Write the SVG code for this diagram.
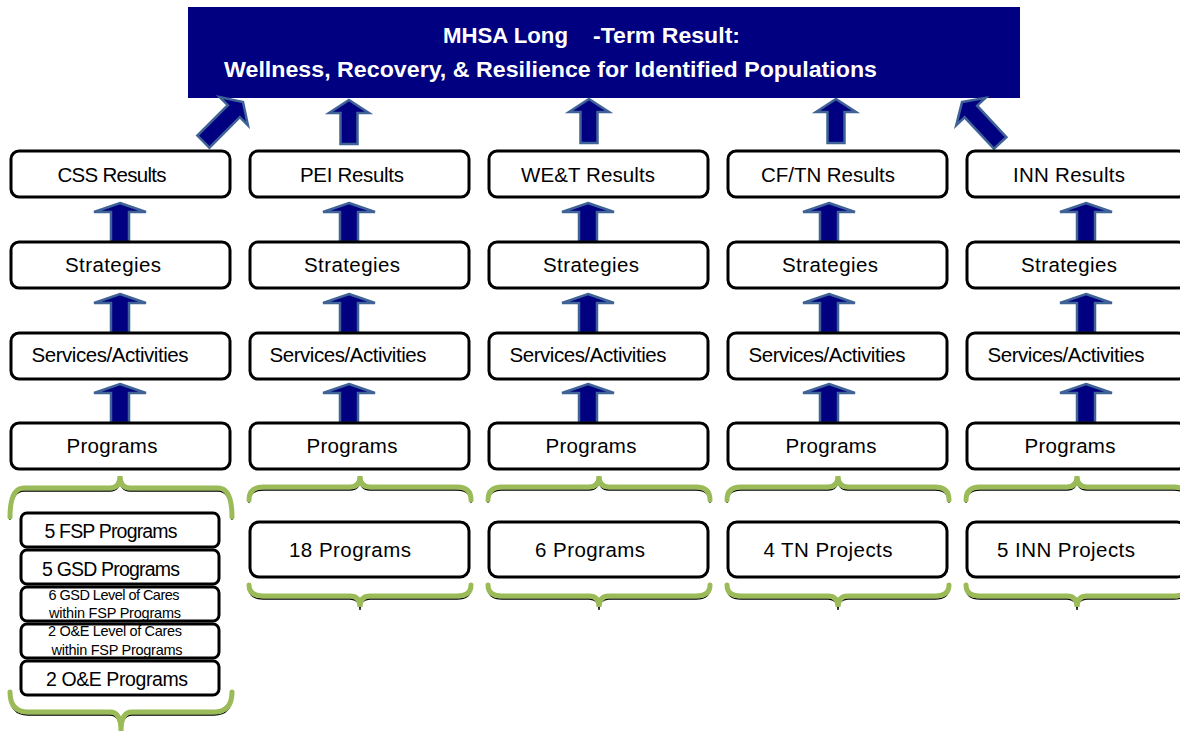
<svg xmlns="http://www.w3.org/2000/svg" width="1180" height="731" viewBox="0 0 1180 731">
<style>
.box{fill:#fff;stroke:#000;stroke-width:3}
.t{font-family:"Liberation Sans",Arial,sans-serif;font-size:20.5px;fill:#000;text-anchor:middle}
.s{font-family:"Liberation Sans",Arial,sans-serif;font-size:14.5px;fill:#000;text-anchor:middle}
.m{font-family:"Liberation Sans",Arial,sans-serif;font-size:19.5px;fill:#000;text-anchor:middle}
.b{font-family:"Liberation Sans",Arial,sans-serif;font-size:22px;font-weight:bold;fill:#fff}
.arr{fill:#000080;stroke:#3F6396;stroke-width:2.5;stroke-linejoin:miter}
.br{fill:none;stroke:#9BBB59;stroke-width:5;stroke-linecap:round}
.bs{fill:none;stroke:#000;stroke-width:1.3}
</style>
<defs>
<polygon id="ra" points="0,0 26,9 9,9 9,39 -9,39 -9,9 -26,9"/>
<polygon id="ta" points="0,0 20,13 8.5,13 8.5,44 -8.5,44 -8.5,13 -20,13"/>
<polygon id="da" points="0,0 20,13 8.5,13 8.5,56 -8.5,56 -8.5,13 -20,13"/>
<path id="tb" d="M0,24 Q0,11 14,11 L101,11 Q111,11 111,0 Q111,11 121,11 L208,11 Q222,11 222,24"/>
<path id="bb" d="M0,0 Q0,11 14,11 L101,11 Q111,11 111,22 Q111,11 121,11 L208,11 Q222,11 222,0"/>
</defs>

<g id="banner">
<rect x="188" y="7" width="832" height="91" fill="#000080"/>
<text class="b" x="443" y="43" textLength="125" lengthAdjust="spacingAndGlyphs">MHSA Long</text>
<text class="b" x="593" y="43" textLength="147" lengthAdjust="spacingAndGlyphs">-Term Result:</text>
<text class="b" x="224" y="77" textLength="653" lengthAdjust="spacingAndGlyphs">Wellness, Recovery, &amp; Resilience for Identified Populations</text>
</g>

<g id="connectors">
<use href="#da" class="arr" transform="translate(243,102) rotate(45)"/>
<use href="#ta" class="arr" x="349" y="100"/>
<use href="#ta" class="arr" x="589" y="99"/>
<use href="#ta" class="arr" x="836" y="99"/>
<use href="#da" class="arr" transform="translate(962,102) rotate(-43)"/>

<use href="#ra" class="arr" x="120" y="203"/>
<use href="#ra" class="arr" x="120" y="294"/>
<use href="#ra" class="arr" x="120" y="384"/>
<use href="#ra" class="arr" x="349" y="203"/>
<use href="#ra" class="arr" x="349" y="294"/>
<use href="#ra" class="arr" x="349" y="384"/>
<use href="#ra" class="arr" x="588" y="203"/>
<use href="#ra" class="arr" x="588" y="294"/>
<use href="#ra" class="arr" x="588" y="384"/>
<use href="#ra" class="arr" x="829" y="203"/>
<use href="#ra" class="arr" x="829" y="294"/>
<use href="#ra" class="arr" x="829" y="384"/>
<use href="#ra" class="arr" x="1086" y="203"/>
<use href="#ra" class="arr" x="1086" y="294"/>
<use href="#ra" class="arr" x="1086" y="384"/>
</g>

<g id="braces">
<path class="bs" d="M10,520 Q10,491 24,491 L110,491 Q120,491 120,479 Q120,491 130,491 L218,491 Q232,491 232,520"/>
<path class="br" d="M10,517 Q10,488 24,488 L110,488 Q120,488 120,476 Q120,488 130,488 L218,488 Q232,488 232,517"/>
<path class="bs" d="M10,695 Q10,715 28,715 L110,715 Q121,715 121,734 Q121,715 132,715 L214,715 Q232,715 232,695"/>
<path class="br" d="M10,692 Q10,712 28,712 L110,712 Q121,712 121,731 Q121,712 132,712 L214,712 Q232,712 232,692"/>

<use href="#tb" class="bs" x="249" y="479"/><use href="#tb" class="br" x="249" y="476"/>
<use href="#bb" class="bs" x="249" y="588"/><use href="#bb" class="br" x="249" y="585"/>
<use href="#tb" class="bs" x="488" y="479"/><use href="#tb" class="br" x="488" y="476"/>
<use href="#bb" class="bs" x="488" y="588"/><use href="#bb" class="br" x="488" y="585"/>
<use href="#tb" class="bs" x="727" y="479"/><use href="#tb" class="br" x="727" y="476"/>
<use href="#bb" class="bs" x="727" y="588"/><use href="#bb" class="br" x="727" y="585"/>
<use href="#tb" class="bs" x="966" y="479"/><use href="#tb" class="br" x="966" y="476"/>
<use href="#bb" class="bs" x="966" y="588"/><use href="#bb" class="br" x="966" y="585"/>
</g>

<g id="css-results"><rect class="box" x="11" y="151" width="219" height="46" rx="8"/><text class="t" x="112" y="182" textLength="109">CSS Results</text></g>
<g id="css-strategies"><rect class="box" x="11" y="242" width="219" height="46" rx="8"/><text class="t" x="113" y="272" textLength="96">Strategies</text></g>
<g id="css-services"><rect class="box" x="11" y="333" width="219" height="46" rx="8"/><text class="t" x="110" y="362" textLength="157">Services/Activities</text></g>
<g id="css-programs"><rect class="box" x="11" y="423" width="219" height="46" rx="8"/><text class="t" x="112" y="453" textLength="91">Programs</text></g>
<g id="css-fsp"><rect class="box" x="21" y="513" width="198" height="34" rx="6"/><text class="m" x="111" y="538" textLength="133">5 FSP Programs</text></g>
<g id="css-gsd"><rect class="box" x="21" y="550" width="198" height="34" rx="6"/><text class="m" x="111" y="576" textLength="138">5 GSD Programs</text></g>
<g id="css-gsd-loc"><rect class="box" x="21" y="587" width="198" height="34" rx="6"/><text class="s" x="114" y="600" textLength="131">6 GSD Level of Cares</text><text class="s" x="115" y="618" textLength="132">within FSP Programs</text></g>
<g id="css-oe-loc"><rect class="box" x="21" y="624" width="198" height="34" rx="6"/><text class="s" x="115" y="636" textLength="134">2 O&amp;E Level of Cares</text><text class="s" x="117" y="655" textLength="131">within FSP Programs</text></g>
<g id="css-oe"><rect class="box" x="21" y="661" width="198" height="34" rx="6"/><text class="m" x="117" y="686" textLength="142">2 O&amp;E Programs</text></g>

<g id="pei-results"><rect class="box" x="250" y="151" width="219" height="46" rx="8"/><text class="t" x="352" y="182" textLength="104">PEI Results</text></g>
<g id="pei-strategies"><rect class="box" x="250" y="242" width="219" height="46" rx="8"/><text class="t" x="352" y="272" textLength="96">Strategies</text></g>
<g id="pei-services"><rect class="box" x="250" y="333" width="219" height="46" rx="8"/><text class="t" x="348" y="362" textLength="157">Services/Activities</text></g>
<g id="pei-programs"><rect class="box" x="250" y="423" width="219" height="46" rx="8"/><text class="t" x="352" y="453" textLength="91">Programs</text></g>
<g id="pei-count"><rect class="box" x="250" y="522" width="219" height="55" rx="9"/><text class="t" x="350" y="557" textLength="122">18 Programs</text></g>

<g id="wet-results"><rect class="box" x="489" y="151" width="219" height="46" rx="8"/><text class="t" x="588" y="182" textLength="134">WE&amp;T Results</text></g>
<g id="wet-strategies"><rect class="box" x="489" y="242" width="219" height="46" rx="8"/><text class="t" x="591" y="272" textLength="96">Strategies</text></g>
<g id="wet-services"><rect class="box" x="489" y="333" width="219" height="46" rx="8"/><text class="t" x="588" y="362" textLength="157">Services/Activities</text></g>
<g id="wet-programs"><rect class="box" x="489" y="423" width="219" height="46" rx="8"/><text class="t" x="591" y="453" textLength="91">Programs</text></g>
<g id="wet-count"><rect class="box" x="489" y="522" width="219" height="55" rx="9"/><text class="t" x="590" y="557" textLength="110">6 Programs</text></g>

<g id="cftn-results"><rect class="box" x="728" y="151" width="219" height="46" rx="8"/><text class="t" x="828" y="182" textLength="134">CF/TN Results</text></g>
<g id="cftn-strategies"><rect class="box" x="728" y="242" width="219" height="46" rx="8"/><text class="t" x="830" y="272" textLength="96">Strategies</text></g>
<g id="cftn-services"><rect class="box" x="728" y="333" width="219" height="46" rx="8"/><text class="t" x="827" y="362" textLength="157">Services/Activities</text></g>
<g id="cftn-programs"><rect class="box" x="728" y="423" width="219" height="46" rx="8"/><text class="t" x="831" y="453" textLength="91">Programs</text></g>
<g id="cftn-count"><rect class="box" x="728" y="522" width="219" height="55" rx="9"/><text class="t" x="828" y="557" textLength="129">4 TN Projects</text></g>

<g id="inn-results"><rect class="box" x="967" y="151" width="219" height="46" rx="8"/><text class="t" x="1069" y="182" textLength="112">INN Results</text></g>
<g id="inn-strategies"><rect class="box" x="967" y="242" width="219" height="46" rx="8"/><text class="t" x="1069" y="272" textLength="96">Strategies</text></g>
<g id="inn-services"><rect class="box" x="967" y="333" width="219" height="46" rx="8"/><text class="t" x="1066" y="362" textLength="157">Services/Activities</text></g>
<g id="inn-programs"><rect class="box" x="967" y="423" width="219" height="46" rx="8"/><text class="t" x="1070" y="453" textLength="91">Programs</text></g>
<g id="inn-count"><rect class="box" x="967" y="522" width="219" height="55" rx="9"/><text class="t" x="1066" y="557" textLength="138">5 INN Projects</text></g>
</svg>
